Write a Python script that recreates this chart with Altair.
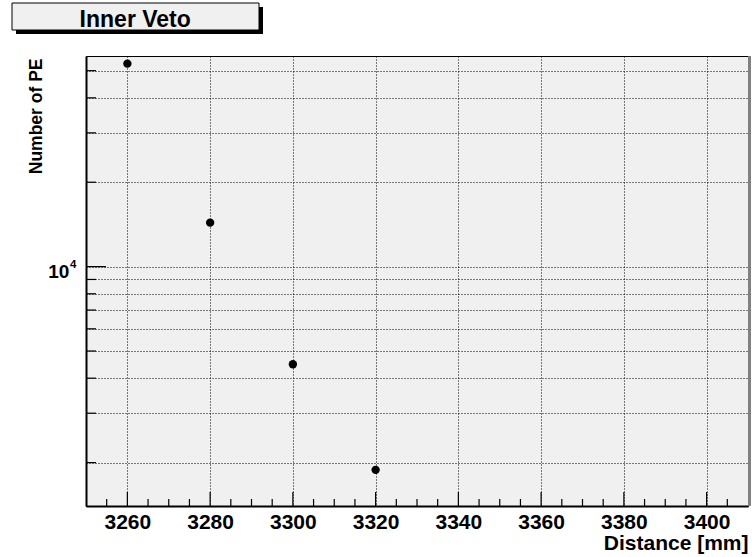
import altair as alt
import pandas as pd

# ---- data ----
distance_mm = [3260, 3280, 3300, 3320]
number_pe = [52970, 14350, 4487, 1884]

x_major = [3260, 3280, 3300, 3320, 3340, 3360, 3380, 3400]
x_minor = [v for v in range(3255, 3410, 5) if v % 20 != 0]
y_major = [10000]
y_minor = [2000, 3000, 4000, 5000, 6000, 7000, 8000, 9000,
           20000, 30000, 40000, 50000]
y_grid = sorted(y_major + y_minor)

title_text = "Inner Veto"
x_title = "Distance [mm]"
y_title = "Number of PE"

W, H = 662, 450
FONT = "Liberation Sans"

xscale = alt.Scale(domain=[3250, 3410], nice=False, zero=False)
yscale = alt.Scale(type="log", domain=[1400, 56400], nice=False)

xaxis = alt.Axis(
    values=x_major, grid=True, gridDash=[1, 2], gridColor="black",
    gridOpacity=1, gridWidth=1, ticks=False, domain=True,
    domainColor="black", domainWidth=2, labelFont=FONT,
    labelFontWeight="bold", labelFontSize=21, labelColor="black",
    labelPadding=5, labelFlush=False, format="d",
    title=x_title, titleFont=FONT, titleFontWeight="bold",
    titleFontSize=21, titleColor="black", titleAlign="right",
    titleBaseline="alphabetic", titleX=W, titleY=43.5)
yaxis = alt.Axis(
    values=y_grid, grid=True, gridDash=[1, 2], gridColor="black",
    gridOpacity=1, gridWidth=1, ticks=False, labels=False,
    domain=True, domainColor="black", domainWidth=2,
    title=y_title, titleFont=FONT, titleFontWeight="bold",
    titleFontSize=17.5, titleColor="black", titleAngle=270,
    titleAlign="right", titleBaseline="alphabetic",
    titleX=-44.3, titleY=2)

pts = pd.DataFrame({"x": distance_mm, "y": number_pe})

points = alt.Chart(pts).mark_circle(size=70, color="black", opacity=1).encode(
    x=alt.X("x:Q", scale=xscale, axis=xaxis),
    y=alt.Y("y:Q", scale=yscale, axis=yaxis),
)

def xticks(vals, length):
    return alt.Chart(pd.DataFrame({"x": vals})).mark_rule(
        color="black", strokeWidth=1.2).encode(
        x=alt.X("x:Q", scale=xscale, axis=xaxis),
        y=alt.value(H), y2=alt.value(H - length))

def yticks(vals, length):
    return alt.Chart(pd.DataFrame({"y": vals})).mark_rule(
        color="black", strokeWidth=1.2).encode(
        y=alt.Y("y:Q", scale=yscale, axis=yaxis),
        x=alt.value(0), x2=alt.value(length))

lab = pd.DataFrame({"y": [10000]})
lab10 = alt.Chart(lab).mark_text(
    align="right", baseline="alphabetic", dy=11, font=FONT,
    fontWeight="bold", fontSize=19, color="black").encode(
    y=alt.Y("y:Q", scale=yscale, axis=yaxis),
    x=alt.value(-16.7), text=alt.value("10"))
lab4 = alt.Chart(lab).mark_text(
    align="left", baseline="alphabetic", dy=1.6, font=FONT,
    fontWeight="bold", fontSize=11.5, color="black").encode(
    y=alt.Y("y:Q", scale=yscale, axis=yaxis),
    x=alt.value(-16), text=alt.value("4"))

one = alt.Data(values=[{"a": 1}])
shadow = alt.Chart(one).mark_rect(color="black").encode(
    x=alt.value(-70), x2=alt.value(177), y=alt.value(-49), y2=alt.value(-22))
box = alt.Chart(one).mark_rect(fill="#f0f0f0", stroke="black", strokeWidth=1).encode(
    x=alt.value(-74), x2=alt.value(173), y=alt.value(-53), y2=alt.value(-26))
box_text = alt.Chart(one).mark_text(
    align="center", baseline="alphabetic", font=FONT, fontWeight="bold",
    fontSize=23, color="black").encode(
    x=alt.value(49.2), y=alt.value(-29.3), text=alt.value(title_text))

right_border = alt.Chart(one).mark_rule(color="#808080", strokeWidth=3).encode(
    x=alt.value(W + 1.5), y=alt.value(0), y2=alt.value(H))

chart = alt.layer(
    points,
    xticks(x_major, 14), xticks(x_minor, 7),
    yticks(y_major, 20), yticks(y_minor, 10),
    lab10, lab4, right_border, shadow, box, box_text,
).properties(
    width=W, height=H,
    padding={"left": 86, "top": 56, "right": 4, "bottom": 51},
    autosize=alt.AutoSizeParams(type="none"),
    background="white",
).configure_view(fill="#f0f0f0", stroke="black", strokeWidth=1)

chart.save("out.html", embed_options={"renderer": "svg", "actions": False})
